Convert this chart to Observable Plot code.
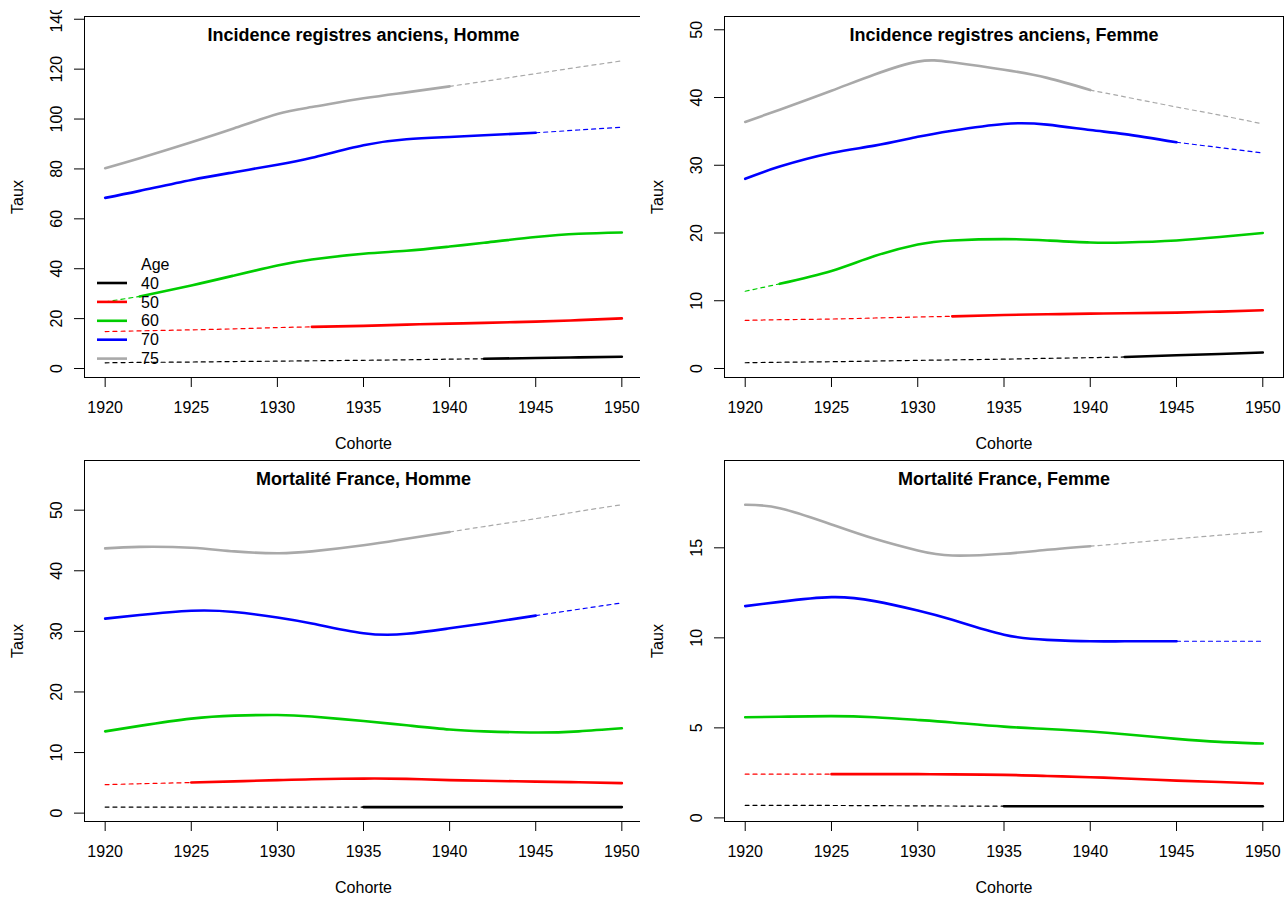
<!DOCTYPE html>
<html><head><meta charset="utf-8">
<script src="https://cdn.jsdelivr.net/npm/d3@7"></script>
<script src="https://cdn.jsdelivr.net/npm/@observablehq/plot@0.6"></script>
<style>
body{margin:0;background:#fff;}
#wrap{position:relative;width:1284px;height:897px;overflow:hidden;background:#fff;font-family:"Liberation Sans",Arial,Helvetica,sans-serif;}
.panel{position:absolute;}
.panel svg{overflow:hidden;}
</style></head><body><div id="wrap"></div>
<script>
// ---------- data ----------
const cohortes = [1920, 1922, 1925, 1927.5, 1930, 1932, 1935, 1937.5, 1940, 1942, 1945, 1947.5, 1950];
const ages = ["40", "50", "60", "70", "75"];
const couleurs = ["#000000", "#FF0000", "#00CD00", "#0000FF", "#A9A9A9"];
const xTicks = [1920, 1925, 1930, 1935, 1940, 1945, 1950];

// Incidence registres anciens, Homme
const incHomme40 = [2.3, 2.45, 2.6, 2.8, 2.95, 3.1, 3.3, 3.5, 3.75, 3.9, 4.2, 4.45, 4.7];
const incHomme50 = [14.8, 15.1, 15.5, 15.9, 16.4, 16.7, 17.1, 17.6, 18.0, 18.3, 18.8, 19.4, 20.1];
const incHomme60 = [26.7, 28.9, 33.3, 37.3, 41.3, 43.7, 46.0, 47.2, 48.9, 50.4, 52.7, 54.0, 54.5];
const incHomme70 = [68.4, 71.2, 75.6, 78.7, 81.7, 84.5, 89.5, 91.9, 92.8, 93.5, 94.5, 95.6, 96.7];
const incHomme75 = [80.3, 84.3, 90.7, 96.3, 102.0, 104.8, 108.3, 110.7, 113.1, 115.1, 118.2, 120.8, 123.3];

// Incidence registres anciens, Femme
const incFemme40 = [0.85, 0.92, 1.0, 1.1, 1.2, 1.27, 1.38, 1.5, 1.6, 1.7, 1.95, 2.15, 2.35];
const incFemme50 = [7.1, 7.2, 7.3, 7.45, 7.6, 7.7, 7.9, 8.0, 8.1, 8.15, 8.25, 8.4, 8.6];
const incFemme60 = [11.4, 12.5, 14.4, 16.6, 18.3, 18.9, 19.1, 18.9, 18.6, 18.6, 18.9, 19.4, 20.0];
const incFemme70 = [28.0, 29.8, 31.8, 32.9, 34.2, 35.1, 36.1, 36.0, 35.2, 34.6, 33.4, 32.6, 31.8];
const incFemme75 = [36.4, 38.2, 41.0, 43.4, 45.3, 45.2, 44.1, 42.9, 41.1, 40.1, 38.6, 37.4, 36.1];

// Mortalité France, Homme
const morHomme40 = [1.0, 1.0, 1.0, 1.0, 1.0, 1.0, 1.0, 1.0, 1.0, 1.0, 1.0, 1.0, 1.0];
const morHomme50 = [4.7, 4.85, 5.05, 5.25, 5.45, 5.6, 5.7, 5.65, 5.45, 5.35, 5.2, 5.1, 4.95];
const morHomme60 = [13.5, 14.4, 15.6, 16.1, 16.2, 15.95, 15.2, 14.5, 13.8, 13.5, 13.3, 13.5, 14.0];
const morHomme70 = [32.1, 32.7, 33.4, 33.2, 32.3, 31.3, 29.7, 29.6, 30.5, 31.3, 32.6, 33.65, 34.7];
const morHomme75 = [43.7, 43.95, 43.8, 43.2, 42.9, 43.2, 44.2, 45.3, 46.4, 47.3, 48.6, 49.8, 50.9];

// Mortalité France, Femme
const morFemme40 = [0.70, 0.695, 0.69, 0.68, 0.67, 0.66, 0.65, 0.65, 0.65, 0.65, 0.65, 0.65, 0.65];
const morFemme50 = [2.43, 2.43, 2.43, 2.43, 2.43, 2.42, 2.39, 2.33, 2.26, 2.19, 2.07, 1.99, 1.91];
const morFemme60 = [5.59, 5.62, 5.65, 5.59, 5.44, 5.3, 5.07, 4.94, 4.8, 4.65, 4.39, 4.22, 4.13];
const morFemme70 = [11.76, 12.0, 12.26, 12.04, 11.52, 11.0, 10.17, 9.89, 9.81, 9.81, 9.81, 9.81, 9.81];
const morFemme75 = [17.39, 17.2, 16.3, 15.5, 14.85, 14.57, 14.67, 14.89, 15.09, 15.25, 15.5, 15.7, 15.9];

// observed (solid) cohort range per age
const incDebut = [1942, 1932, 1922, 1920, 1920];
const incFin   = [1950, 1950, 1950, 1945, 1940];
const morDebut = [1935, 1925, 1920, 1920, 1920];
const morFin   = [1950, 1950, 1950, 1945, 1940];

const panneaux = [
  {titre: "Incidence registres anciens, Homme", series: [incHomme40, incHomme50, incHomme60, incHomme70, incHomme75], debut: incDebut, fin: incFin, yDomain: [-3.6, 141.1], yTicks: [0, 20, 40, 60, 80, 100, 120, 140], legende: true},
  {titre: "Incidence registres anciens, Femme", series: [incFemme40, incFemme50, incFemme60, incFemme70, incFemme75], debut: incDebut, fin: incFin, yDomain: [-1.33, 51.96], yTicks: [0, 10, 20, 30, 40, 50]},
  {titre: "Mortalité France, Homme", series: [morHomme40, morHomme50, morHomme60, morHomme70, morHomme75], debut: morDebut, fin: morFin, yDomain: [-1.38, 58.2], yTicks: [0, 10, 20, 30, 40, 50]},
  {titre: "Mortalité France, Femme", series: [morFemme40, morFemme50, morFemme60, morFemme70, morFemme75], debut: morDebut, fin: morFin, yDomain: [-0.2, 19.85], yTicks: [0, 5, 10, 15]}
];

// ---------- layout ----------
const cadres = [
  {left: 0,   top: 10,  width: 642, height: 442, mt: 6, mb: 75, ml: 84, mr: 0},
  {left: 640, top: 10,  width: 644, height: 442, mt: 6, mb: 75, ml: 84, mr: 1},
  {left: 0,   top: 452, width: 642, height: 445, mt: 8, mb: 76, ml: 84, mr: 0},
  {left: 640, top: 452, width: 644, height: 445, mt: 8, mb: 76, ml: 84, mr: 1}
];

function lignes(p) {
  const pleines = [], pointillees = [];
  p.series.forEach((vals, i) => {
    const a = ages[i];
    vals.forEach((v, j) => {
      const yr = cohortes[j];
      if (yr >= p.debut[i] && yr <= p.fin[i]) pleines.push({x: yr, y: v, age: a});
      if (yr <= p.debut[i] && p.debut[i] > cohortes[0]) pointillees.push({x: yr, y: v, age: a, k: a + "avant"});
      if (yr >= p.fin[i] && p.fin[i] < cohortes[cohortes.length - 1]) pointillees.push({x: yr, y: v, age: a, k: a + "apres"});
    });
  });
  return {pleines, pointillees};
}

const wrap = document.getElementById("wrap");
const font = '"Liberation Sans", Arial, Helvetica, sans-serif';

panneaux.forEach((p, idx) => {
  const c = cadres[idx];
  const {pleines, pointillees} = lignes(p);
  const chart = Plot.plot({
    width: c.width, height: c.height,
    marginTop: c.mt, marginBottom: c.mb, marginLeft: c.ml, marginRight: c.mr,
    style: {fontFamily: font, fontSize: "16px", color: "#000", background: "#fff", overflow: "hidden"},
    x: {domain: [1918.8, 1951.2], axis: null},
    y: {domain: p.yDomain, axis: null},
    color: {domain: ages, range: couleurs},
    marks: [
      Plot.line(pointillees, {x: "x", y: "y", z: "k", stroke: "age", strokeWidth: 1.2, strokeDasharray: "4,4", curve: "natural"}),
      Plot.line(pleines, {x: "x", y: "y", z: "age", stroke: "age", strokeWidth: 2.6, curve: "natural"}),
      Plot.frame({stroke: "#000", strokeWidth: 1}),
      Plot.axisX(xTicks, {tickSize: 10, tickPadding: 14, tickFormat: d => String(d), label: null, fontSize: 16, stroke: "#000", color: "#000"}),
      Plot.axisY(p.yTicks, {tickSize: 10, tickFormat: () => "", label: null, stroke: "#000"}),
      Plot.text(p.yTicks, {y: d => d, text: d => String(d), frameAnchor: "left", dx: -28, rotate: -90, textAnchor: "middle", lineAnchor: "middle", fontSize: 16, fill: "#000"}),
      Plot.text([p.titre], {text: d => d, frameAnchor: "top", dy: 18.5, lineAnchor: "middle", fontWeight: "bold", fontSize: 18, fill: "#000"}),
      Plot.text(["Cohorte"], {text: d => d, frameAnchor: "bottom", dy: 66, lineAnchor: "middle", fontSize: 16, fill: "#000"}),
      Plot.text(["Taux"], {text: d => d, frameAnchor: "left", dx: -67, rotate: -90, textAnchor: "middle", lineAnchor: "middle", fontSize: 16, fill: "#000"})
    ]
  });
  const div = document.createElement("div");
  div.className = "panel";
  div.style.left = c.left + "px";
  div.style.top = c.top + "px";
  div.appendChild(chart);
  wrap.appendChild(div);

  if (p.legende) {
    const leg = d3.select(div).append("svg")
      .attr("width", 120).attr("height", 120)
      .style("position", "absolute").style("left", "90px").style("top", (250 - c.top) + "px")
      .style("font-family", font).style("font-size", "16px");
    leg.append("text").attr("x", 51).attr("y", 14).attr("dy", "0.35em").text("Age");
    ages.forEach((a, i) => {
      const y = 33 + i * 18.9;
      leg.append("line").attr("x1", 7).attr("x2", 37).attr("y1", y).attr("y2", y)
        .attr("stroke", couleurs[i]).attr("stroke-width", 2.6);
      leg.append("text").attr("x", 51).attr("y", y).attr("dy", "0.35em").text(a);
    });
  }
});
</script>
</body></html>
